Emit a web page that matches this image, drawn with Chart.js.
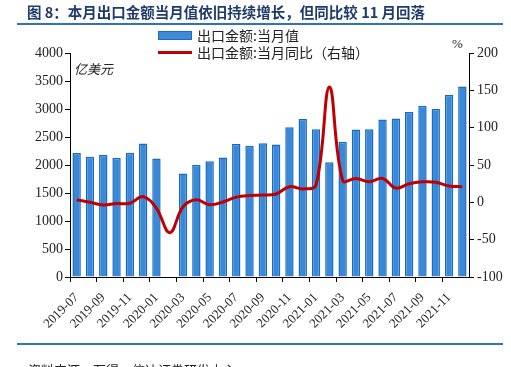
<!DOCTYPE html>
<html>
<head>
<meta charset="utf-8">
<script src="https://cdn.jsdelivr.net/npm/chart.js@4"></script>
<style>
  body { margin: 0; width: 511px; height: 367px; overflow: hidden; background: #fff; position: relative; }
  #wrap { position: absolute; left: 0; top: 0; width: 511px; height: 367px; }
  .txt { position: absolute; white-space: nowrap; font-family: "Noto Sans CJK SC", sans-serif; color: #222; }
  #title { left: 27px; top: 1px; font-size: 14.5px; font-weight: bold; color: #1f3b6c; }
  .rule { position: absolute; left: 17px; width: 486px; height: 2px; background: #2e74b5; }
  .leg { font-size: 14px; }
</style>
</head>
<body>
<div id="wrap"><canvas id="chart"></canvas></div>
<div class="txt" id="title">图 8：本月出口金额当月值依旧持续增长，但同比较 11 月回落</div>
<div class="rule" style="top:23px"></div>
<div class="rule" style="top:343px"></div>
<div style="position:absolute;left:158px;top:31px;width:32px;height:7px;background:#3f8ad6;border:1px solid #1b6cc2"></div>
<div class="txt leg" style="left:197px;top:25px">出口金额:当月值</div>
<div style="position:absolute;left:158px;top:51px;width:34px;height:3px;background:#c00000"></div>
<div class="txt leg" style="left:197px;top:42px">出口金额:当月同比（右轴）</div>
<div class="txt" style="left:74px;top:59px;font-size:13px;font-style:italic">亿美元</div>
<div class="txt" style="left:452px;top:36px;font-size:13px;font-family:'Liberation Serif',serif">%</div>
<div class="txt" style="left:28px;top:360px;font-size:13px">资料来源：万得，信达证券研发中心</div>
<script>
const months = [
  '2019-07','2019-08','2019-09','2019-10','2019-11','2019-12',
  '2020-01','2020-02','2020-03','2020-04','2020-05','2020-06',
  '2020-07','2020-08','2020-09','2020-10','2020-11','2020-12',
  '2021-01','2021-02','2021-03','2021-04','2021-05','2021-06',
  '2021-07','2021-08','2021-09','2021-10','2021-11','2021-12'
];
// 出口金额:当月值（亿美元）
const exportValue = [
  2215, 2148, 2185, 2130, 2217, 2383,
  2118, null, 1850, 2000, 2068, 2135,
  2375, 2345, 2390, 2365, 2675, 2820,
  2638, 2048, 2413, 2636, 2638, 2814,
  2830, 2945, 3052, 3000, 3254, 3400
];
// 出口金额:当月同比（%）
const exportYoY = [
  3.3, 0, -3.5, -1.5, -1.3, 7.6,
  -8, -40.6, -6, 3.3, -3.3, 0.5,
  7, 9.2, 9.7, 11.2, 21, 18,
  23.5, 154.5, 29.5, 32, 27.5, 32,
  19, 25, 27.5, 27, 22, 21
];
const leftTicks = [0, 4000, 500];
const rightTicks = [-100, 200, 50];

const serif = { family: "'Liberation Serif', serif", size: 14 };

new Chart(document.getElementById('chart'), {
  data: {
    labels: months,
    datasets: [
      {
        type: 'line',
        label: '出口金额:当月同比（右轴）',
        data: exportYoY,
        yAxisID: 'y1',
        borderColor: '#c00000',
        borderWidth: 3,
        pointRadius: 0,
        tension: 0.4,
        order: 0
      },
      {
        type: 'bar',
        label: '出口金额:当月值',
        data: exportValue,
        yAxisID: 'y',
        backgroundColor: '#3a88d8',
        borderColor: '#176bc4',
        borderWidth: 1.5,
        barPercentage: 0.63,
        categoryPercentage: 1,
        order: 1
      }
    ]
  },
  options: {
    responsive: true,
    maintainAspectRatio: false,
    animation: false,
    layout: { padding: { top: 53, left: 0, right: 0, bottom: 0 } },
    plugins: { legend: { display: false }, tooltip: { enabled: false } },
    scales: {
      x: {
        offset: true,
        grid: {
          offset: true,
          drawOnChartArea: false,
          tickLength: 5,
          color: ctx => ctx.index % 2 === 0 ? '#000' : 'rgba(0,0,0,0)'
        },
        border: { display: true, color: '#000', width: 1 },
        ticks: {
          autoSkip: false,
          minRotation: 45,
          maxRotation: 45,
          padding: 8,
          color: '#222',
          font: { family: "'Liberation Serif', serif", size: 13 },
          callback: (v, i) => i % 2 === 0 ? months[i] : ''
        },
        afterFit: s => { s.height = 90; }
      },
      y: {
        position: 'left',
        min: leftTicks[0],
        max: leftTicks[1],
        grid: { drawOnChartArea: false, tickLength: 5, color: '#000' },
        border: { display: true, color: '#000', width: 1 },
        ticks: { stepSize: leftTicks[2], padding: 2, color: '#222', font: serif, callback: v => String(v) },
        afterFit: s => { s.width = 70; }
      },
      y1: {
        position: 'right',
        min: rightTicks[0],
        max: rightTicks[1],
        grid: { drawOnChartArea: false, tickLength: 5, color: '#000' },
        border: { display: true, color: '#000', width: 1 },
        ticks: { stepSize: rightTicks[2], padding: 3, color: '#222', font: serif, callback: v => String(v) },
        afterFit: s => { s.width = 42; }
      }
    }
  }
});
</script>
</body>
</html>
